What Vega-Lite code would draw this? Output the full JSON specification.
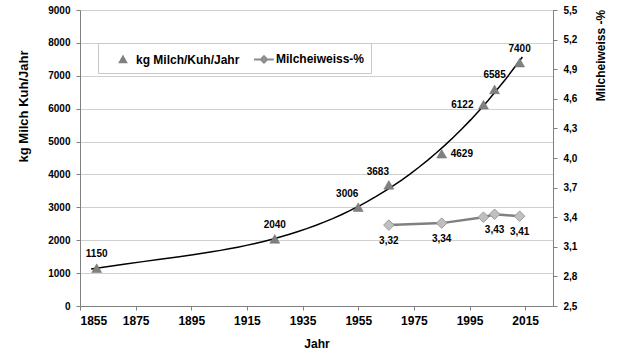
{
 "$schema": "https://vega.github.io/schema/vega-lite/v6.json",
 "width": 473, "height": 296, "autosize": "none",
 "padding": {"left": 80, "top": 10, "right": 77, "bottom": 54},
 "background": "white",
 "config": {
  "font": "Liberation Sans",
  "view": {"stroke": null},
  "locale": {"number": {"decimal": ",", "thousands": ".", "grouping": [3], "currency": ["", " €"]}},
  "axis": {"labelFont": "Liberation Sans", "labelFontWeight": "bold", "labelColor": "#000", "titleFont": "Liberation Sans", "titleFontWeight": "bold", "titleColor": "#000", "domainColor": "#808080", "tickColor": "#808080", "tickSize": 4, "labelPadding": 6},
  "legend": {"orient": "none", "legendX": 18, "legendY": 33, "direction": "horizontal", "fillColor": "white", "strokeColor": "#c8c8c8", "padding": 6, "symbolSize": 324, "symbolOpacity": 1, "labelFont": "Liberation Sans", "labelFontWeight": "bold", "labelFontSize": 12, "labelColor": "#000", "labelOffset": 12, "columnPadding": 4, "symbolStrokeWidth": 2}
 },
 "datasets": {
  "kg": [
   {"Jahr": 1861, "kg": 1150, "Serie": "kg Milch/Kuh/Jahr"},
   {"Jahr": 1925, "kg": 2040, "Serie": "kg Milch/Kuh/Jahr"},
   {"Jahr": 1955, "kg": 3006, "Serie": "kg Milch/Kuh/Jahr"},
   {"Jahr": 1966, "kg": 3683, "Serie": "kg Milch/Kuh/Jahr"},
   {"Jahr": 1985, "kg": 4629, "Serie": "kg Milch/Kuh/Jahr"},
   {"Jahr": 2000, "kg": 6122, "Serie": "kg Milch/Kuh/Jahr"},
   {"Jahr": 2004, "kg": 6585, "Serie": "kg Milch/Kuh/Jahr"},
   {"Jahr": 2013, "kg": 7400, "Serie": "kg Milch/Kuh/Jahr"}
  ],
  "eiweiss": [
   {"Jahr": 1966, "Eiweiss": 3.32},
   {"Jahr": 1985, "Eiweiss": 3.34},
   {"Jahr": 2000, "Eiweiss": 3.40},
   {"Jahr": 2004, "Eiweiss": 3.43},
   {"Jahr": 2013, "Eiweiss": 3.41}
  ]
 },
 "encoding": {
  "x": {"field": "Jahr", "type": "quantitative",
   "scale": {"domain": [1855, 2025], "nice": false, "zero": false},
   "axis": {"values": [1855, 1875, 1895, 1915, 1935, 1955, 1975, 1995, 2015], "format": "d", "grid": false, "labelFontSize": 12, "title": "Jahr", "titleFontSize": 12, "titleY": 37, "titleBaseline": "middle", "labelPadding": 5}}
 },
 "layer": [
  {
   "data": {"name": "kg"},
   "encoding": {
    "y": {"field": "kg", "type": "quantitative",
     "scale": {"domain": [0, 9000], "nice": false},
     "axis": {"orient": "left", "values": [0, 1000, 2000, 3000, 4000, 5000, 6000, 7000, 8000, 9000], "format": "d", "labelFontSize": 10, "grid": true, "gridColor": "#a0a0a0", "gridDash": [1, 1], "gridWidth": 1, "title": "kg Milch Kuh/Jahr", "titleFontSize": 13, "titleAngle": 270, "titleX": -57, "titleY": 96, "titleAlign": "center", "titleBaseline": "middle"}}
   },
   "layer": [
    {
     "transform": [{"regression": "kg", "on": "Jahr", "method": "poly", "order": 3, "extent": [1859, 2014]}],
     "mark": {"type": "line", "color": "#000", "strokeWidth": 1.5}
    },
    {
     "mark": {"type": "point", "shape": "triangle-up", "filled": true, "size": 100, "color": "#808080", "opacity": 1, "stroke": "#707070", "strokeWidth": 0.5}
    },
    {
     "transform": [{"filter": "indexof([1861, 1925, 2004, 2013], datum.Jahr) >= 0"}],
     "mark": {"type": "text", "dy": -14, "fontSize": 10, "fontWeight": "bold", "color": "#000"},
     "encoding": {"text": {"field": "kg", "type": "quantitative", "format": "d"}}
    },
    {
     "transform": [{"filter": "indexof([1955, 1966], datum.Jahr) >= 0"}],
     "mark": {"type": "text", "dy": -13, "dx": -11, "fontSize": 10, "fontWeight": "bold", "color": "#000"},
     "encoding": {"text": {"field": "kg", "type": "quantitative", "format": "d"}}
    },
    {
     "transform": [{"filter": "datum.Jahr == 1985"}],
     "mark": {"type": "text", "dx": 9, "align": "left", "fontSize": 10, "fontWeight": "bold", "color": "#000"},
     "encoding": {"text": {"field": "kg", "type": "quantitative", "format": "d"}}
    },
    {
     "transform": [{"filter": "datum.Jahr == 2000"}],
     "mark": {"type": "text", "dx": -10, "align": "right", "fontSize": 10, "fontWeight": "bold", "color": "#000"},
     "encoding": {"text": {"field": "kg", "type": "quantitative", "format": "d"}}
    },
    {
     "mark": {"type": "point", "filled": true, "opacity": 0, "strokeWidth": 2},
     "encoding": {
      "fill": {"field": "Serie", "type": "nominal", "scale": {"domain": ["kg Milch/Kuh/Jahr", "Milcheiweiss-%"], "range": ["#808080", "#c0c0c0"]}, "legend": {"title": null}},
      "stroke": {"field": "Serie", "type": "nominal", "scale": {"domain": ["kg Milch/Kuh/Jahr", "Milcheiweiss-%"], "range": ["#808080", "#8c8c8c"]}, "legend": {"title": null}},
      "shape": {"field": "Serie", "type": "nominal", "scale": {"domain": ["kg Milch/Kuh/Jahr", "Milcheiweiss-%"], "range": ["M1,-0.33L1.35,0.3L0.65,0.3Z", "M0,0H2.2M1.11,-0.36L1.47,0L1.11,0.36L0.75,0Z"]}, "legend": {"title": null}}
     }
    }
   ]
  },
  {
   "data": {"name": "eiweiss"},
   "encoding": {
    "y": {"field": "Eiweiss", "type": "quantitative",
     "scale": {"domain": [2.5, 5.5], "nice": false, "zero": false},
     "axis": {"orient": "right", "values": [2.5, 2.8, 3.1, 3.4, 3.7, 4.0, 4.3, 4.6, 4.9, 5.2, 5.5], "format": ".1f", "labelFontSize": 10, "grid": false, "title": "Milcheiweiss -%", "titleFontSize": 12, "titleAngle": 270, "titleX": 47, "titleY": 45, "titleAlign": "center", "titleBaseline": "middle"}}
   },
   "layer": [
    {"mark": {"type": "line", "color": "#808080", "strokeWidth": 2.5}},
    {"mark": {"type": "point", "shape": "diamond", "filled": true, "size": 110, "fill": "#c0c0c0", "stroke": "#9a9a9a", "strokeWidth": 1, "opacity": 1}},
    {
     "transform": [{"filter": "datum.Jahr != 2000"}],
     "mark": {"type": "text", "dy": 16, "fontSize": 10, "fontWeight": "bold", "color": "#000"},
     "encoding": {"text": {"field": "Eiweiss", "type": "quantitative", "format": ".2f"}}
    }
   ]
  }
 ],
 "resolve": {"scale": {"y": "independent"}}
}
